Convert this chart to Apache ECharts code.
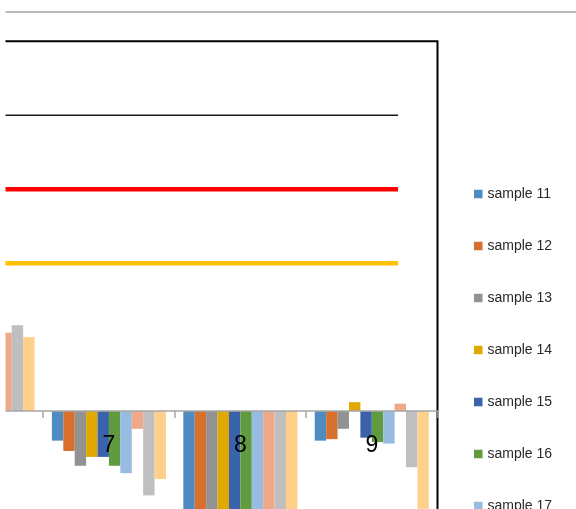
<!DOCTYPE html>
<html>
<head>
<meta charset="utf-8">
<script src="https://cdn.jsdelivr.net/npm/echarts@6/dist/echarts.min.js"></script>
<style>
  html, body { margin: 0; padding: 0; background: #ffffff; }
  #chart { width: 576px; height: 509px; }
</style>
</head>
<body>
<div id="chart"></div>
<script>
// Categories along the horizontal axis
const categories = ['6', '7', '8', '9'];

// Series names and colours
const seriesNames = ['sample 11', 'sample 12', 'sample 13', 'sample 14', 'sample 15',
                     'sample 16', 'sample 17', 'sample 18', 'sample 19', 'sample 20'];
const seriesColors = ['#4f8bc0', '#d76f2d', '#929292', '#e0a800', '#3a63ab',
                      '#619b40', '#98bbe0', '#f0a88a', '#bfbfbf', '#ffd08a'];

// Values per series, one entry per category (6, 7, 8, 9)
const sample11 = [null, -0.20, -0.95, -0.20];
const sample12 = [null, -0.27, -1.05, -0.19];
const sample13 = [null, -0.37, -0.90, -0.12];
const sample14 = [null, -0.31, -1.00,  0.06];
const sample15 = [null, -0.31, -0.85, -0.18];
const sample16 = [null, -0.37, -1.10, -0.21];
const sample17 = [null, -0.42, -0.95, -0.22];
const sample18 = [0.53, -0.12, -1.00,  0.05];
const sample19 = [0.58, -0.57, -1.15, -0.38];
const sample20 = [0.50, -0.46, -1.20, -0.66];
const seriesValues = [sample11, sample12, sample13, sample14, sample15,
                      sample16, sample17, sample18, sample19, sample20];

// Threshold lines: value and colour
const thresholdValues = [2.0, 1.5, 1.0];
const thresholdColors = ['#1a1a1a', '#ff0000', '#ffc000'];
const thresholdWidths = [1.5, 4.5, 4.5];
const thresholdStart = 5.5;
const thresholdEnd = 9.2;

// Value axis range
const yMin = -2.5;
const yMax = 2.5;

// Plot rectangle (extends past the page on the left and below)
const gridLeft = -88.2;
const gridTop = 41.3;
const gridWidth = 525.7;
const gridHeight = 739.5;
// Distance from the bottom of the plot up to the zero line
const zeroOffset = gridHeight * (0 - yMin) / (yMax - yMin);

const chart = echarts.init(document.getElementById('chart'), null, { renderer: 'canvas' });

const barSeries = seriesNames.map((name, i) => ({
  name: name,
  type: 'bar',
  xAxisIndex: 0,
  yAxisIndex: 0,
  data: seriesValues[i],
  itemStyle: { color: seriesColors[i] },
  barGap: '0%',
  barCategoryGap: '13.2%',
  emphasis: { disabled: true },
  animation: false,
  z: 2
}));

const lineSeries = thresholdValues.map((v, i) => ({
  name: 'threshold ' + v,
  type: 'line',
  xAxisIndex: 1,
  yAxisIndex: 0,
  data: [[thresholdStart, v], [thresholdEnd, v]],
  symbol: 'none',
  lineStyle: { color: thresholdColors[i], width: thresholdWidths[i] },
  animation: false,
  silent: true,
  z: 3
}));

const option = {
  backgroundColor: '#ffffff',
  animation: false,
  grid: {
    left: gridLeft,
    top: gridTop,
    width: gridWidth,
    height: gridHeight,
    containLabel: false,
    outerBoundsMode: 'none',
    show: true,
    borderColor: '#000000',
    borderWidth: 2,
    backgroundColor: 'transparent'
  },
  legend: {
    type: 'plain',
    orient: 'vertical',
    left: 474,
    top: 186,
    width: 100,
    height: 1000,
    padding: 0,
    data: seriesNames,
    icon: 'rect',
    itemWidth: 8.5,
    itemHeight: 8.5,
    itemGap: 36,
    textStyle: {
      fontFamily: 'Liberation Sans',
      fontSize: 14,
      color: '#2a2a2a',
      lineHeight: 16
    },
    selectedMode: false
  },
  xAxis: [
    {
      type: 'category',
      data: categories,
      position: 'bottom',
      offset: -zeroOffset,
      z: 10,
      axisLine: { onZero: false, lineStyle: { color: '#a6a6a6', width: 1.5 } },
      axisTick: { show: true, alignWithLabel: false, length: 7, lineStyle: { color: '#a6a6a6', width: 1.5 } },
      axisLabel: {
        show: true,
        interval: 0,
        hideOverlap: false,
        margin: 23,
        fontFamily: 'Liberation Sans',
        fontSize: 23,
        color: '#000000'
      },
      splitLine: { show: false }
    },
    {
      type: 'value',
      min: 5.5,
      max: 9.5,
      show: false
    }
  ],
  yAxis: {
    type: 'value',
    min: yMin,
    max: yMax,
    show: false,
    splitLine: { show: false }
  },
  series: barSeries.concat(lineSeries),
  graphic: [
    {
      type: 'line',
      shape: { x1: 5, y1: 12, x2: 576, y2: 12 },
      style: { stroke: '#a0a0a0', lineWidth: 1.5 },
      z: 100
    },
    {
      type: 'rect',
      shape: { x: 0, y: 0, width: 5.5, height: 509 },
      style: { fill: '#ffffff' },
      z: 200
    }
  ]
};

chart.setOption(option);
</script>
</body>
</html>
